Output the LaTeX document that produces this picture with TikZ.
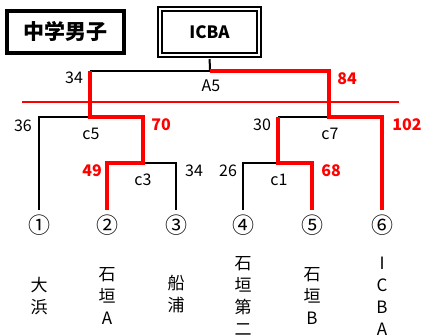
\documentclass[tikz,border=0pt]{standalone}
\usepackage{fontspec}
\setmainfont{Noto Sans CJK JP}
\begin{document}
\begin{tikzpicture}[x=1pt,y=-1pt,
  blk/.style={draw=black,line width=2pt},
  win/.style={draw=red,line width=4pt},
  sep/.style={draw=red,line width=2pt},
  num/.style={font=\fontsize{16}{16}\selectfont, inner sep=0pt},
  wnum/.style={font=\fontsize{16}{16}\selectfont\bfseries, text=red, inner sep=0pt},
  circ/.style={font=\fontsize{22}{22}\selectfont, inner sep=0pt},
  team/.style={font=\fontsize{17}{22}\selectfont, align=center, inner sep=0pt}]
\useasboundingbox (0,0) rectangle (428,335);
% header boxes
\node[draw, line width=4pt, minimum width=117pt, minimum height=42pt,
      font=\fontsize{21}{21}\selectfont\bfseries] (title) at (65.5,31.5) {中学男子};
\node[draw, line width=2pt, double, double distance=2pt, minimum width=99pt, minimum height=46pt,
      font=\fontsize{17}{17}\selectfont\bfseries] (icba) at (209.5,32) {ICBA};
% bracket coordinates
\coordinate (A5top) at (210,71);
\coordinate (A5L) at (90,71);
\coordinate (A5R) at (329,71);
\coordinate (c5top) at (90,117);
\coordinate (c5L) at (39,117);
\coordinate (c5R) at (143,117);
\coordinate (c3top) at (143,163);
\coordinate (c3L) at (107,163);
\coordinate (c3R) at (176,163);
\coordinate (c7top) at (329,117);
\coordinate (c7L) at (278,117);
\coordinate (c7R) at (382,117);
\coordinate (c1top) at (278,163);
\coordinate (c1L) at (243,163);
\coordinate (c1R) at (312,163);
\coordinate (p1) at (39,210);
\coordinate (p2) at (107,210);
\coordinate (p3) at (176,210);
\coordinate (p4) at (243,210);
\coordinate (p5) at (312,210);
\coordinate (p6) at (382,210);
\coordinate (lnL) at (22,102);
\coordinate (lnR) at (399,102);
% black lines
\draw[blk, shorten <=3pt] (icba.south) -- (A5top);
\draw[blk] (A5top) -- (A5L);
\draw[blk] (c5top) -- (c5L) -- (p1);
\draw[blk] (c3top) -- (c3R) -- (p3);
\draw[blk] (c7top) -- (c7L);
\draw[blk] (c1top) -- (c1L) -- (p4);
% separator
\draw[sep] (lnL) -- (lnR);
% winning lines
\draw[win] (A5top) -- (A5R) -- (c7top) -- (c7R) -- (p6);
\draw[win] (A5L) -- (c5top) -- (c5R) -- (c3top) -- (c3L) -- (p2);
\draw[win] (c7L) -- (c1top) -- (c1R) -- (p5);
% labels
\node[num] (s34a) at (74,78) {34};
\node[num] (a5) at (211,86) {A5};
\node[wnum] (s84) at (347,79) {84};
\node[num] (s36) at (23,126) {36};
\node[num] (c5) at (91,134) {c5};
\node[wnum] (s70) at (161,125) {70};
\node[wnum] (s49) at (92,171) {49};
\node[num] (c3) at (143,180) {c3};
\node[num] (s34b) at (194,171) {34};
\node[num] (s30) at (262,125) {30};
\node[num] (c7) at (330,134) {c7};
\node[wnum] (s102) at (407,125) {102};
\node[num] (s26) at (228,171) {26};
\node[num] (c1) at (279,180) {c1};
\node[wnum] (s68) at (331,171) {68};
% entrants
\node[circ] (n1) at (39,225) {①};
\node[circ] (n2) at (107,225) {②};
\node[circ] (n3) at (176,225) {③};
\node[circ] (n4) at (243,225) {④};
\node[circ] (n5) at (312,225) {⑤};
\node[circ] (n6) at (382,225) {⑥};
\node[team] (t1) at (39,296) {大\\浜};
\node[team] (t2) at (107,296) {石\\垣\\A};
\node[team] (t3) at (176,294) {船\\浦};
\node[team] (t4) at (243,296) {石\\垣\\第\\二};
\node[team] (t5) at (312,296) {石\\垣\\B};
\node[team] (t6) at (382,296) {I\\C\\B\\A};
\end{tikzpicture}
\end{document}
